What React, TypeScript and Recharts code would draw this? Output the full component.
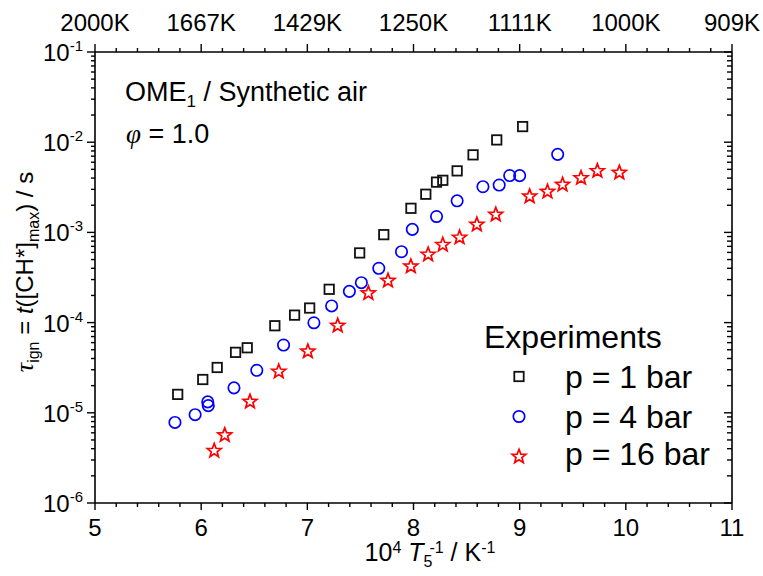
import React from 'react';
import { ScatterChart, Scatter, XAxis, YAxis } from 'recharts';

const FONT = '"Liberation Sans", Arial, Helvetica, sans-serif';
const SERIF = '"Liberation Serif", "Times New Roman", serif';

const xMajorTicks = [5, 6, 7, 8, 9, 10, 11];
const xMinorTicks = [5.2, 5.4, 5.6, 5.8, 6.2, 6.4, 6.6, 6.8, 7.2, 7.4, 7.6, 7.8, 8.2, 8.4, 8.6, 8.8, 9.2, 9.4, 9.6, 9.8, 10.2, 10.4, 10.6, 10.8];
const topTickLabels = ['2000K', '1667K', '1429K', '1250K', '1111K', '1000K', '909K'];
const yMajorTicks = [1e-6, 1e-5, 1e-4, 1e-3, 1e-2, 1e-1];
const yExponents = ['-6', '-5', '-4', '-3', '-2', '-1'];
const yMinorTicks = [
  2e-6, 3e-6, 4e-6, 5e-6, 6e-6, 7e-6, 8e-6, 9e-6,
  2e-5, 3e-5, 4e-5, 5e-5, 6e-5, 7e-5, 8e-5, 9e-5,
  2e-4, 3e-4, 4e-4, 5e-4, 6e-4, 7e-4, 8e-4, 9e-4,
  2e-3, 3e-3, 4e-3, 5e-3, 6e-3, 7e-3, 8e-3, 9e-3,
  2e-2, 3e-2, 4e-2, 5e-2, 6e-2, 7e-2, 8e-2, 9e-2,
];

const seriesNames = ['p = 1 bar', 'p = 4 bar', 'p = 16 bar'];

const p1X = [5.779, 6.015, 6.151, 6.324, 6.434, 6.694, 6.88, 7.022, 7.206, 7.493, 7.72, 7.976, 8.116, 8.217, 8.276, 8.411, 8.561, 8.784, 9.028];
const p1Y = [1.6e-5, 2.34e-5, 3.18e-5, 4.68e-5, 5.26e-5, 9.23e-5, 1.21e-4, 1.45e-4, 2.34e-4, 5.92e-4, 9.44e-4, 1.85e-3, 2.65e-3, 3.61e-3, 3.78e-3, 4.81e-3, 7.24e-3, 1.06e-2, 1.49e-2];

const p4X = [5.753, 5.943, 6.067, 6.062, 6.309, 6.524, 6.776, 7.062, 7.229, 7.396, 7.509, 7.673, 7.887, 7.989, 8.217, 8.411, 8.654, 8.807, 8.906, 9.0, 9.358];
const p4Y = [7.82e-6, 9.53e-6, 1.2e-5, 1.32e-5, 1.89e-5, 2.96e-5, 5.64e-5, 9.96e-5, 1.53e-4, 2.22e-4, 2.77e-4, 4.0e-4, 6.11e-4, 1.08e-3, 1.5e-3, 2.24e-3, 3.21e-3, 3.35e-3, 4.27e-3, 4.26e-3, 7.33e-3];

const p16X = [6.123, 6.222, 6.46, 6.731, 7.005, 7.286, 7.575, 7.76, 7.975, 8.138, 8.276, 8.434, 8.597, 8.775, 9.094, 9.262, 9.404, 9.578, 9.732, 9.939];
const p16Y = [3.85e-6, 5.74e-6, 1.35e-5, 2.91e-5, 4.86e-5, 9.4e-5, 2.15e-4, 2.96e-4, 4.27e-4, 5.77e-4, 7.4e-4, 8.91e-4, 1.24e-3, 1.6e-3, 2.55e-3, 2.87e-3, 3.43e-3, 4.07e-3, 4.87e-3, 4.67e-3];

const toPoints = (xs: number[], ys: number[]) => xs.map((x, i) => ({ x, y: ys[i] }));
const data1 = toPoints(p1X, p1Y);
const data4 = toPoints(p4X, p4Y);
const data16 = toPoints(p16X, p16Y);

const xAllTicks = [...xMajorTicks, ...xMinorTicks];
const yAllTicks = [...yMajorTicks, ...yMinorTicks];

const W = 763;
const H = 576;

function Square({ cx, cy }: { cx: number; cy: number }) {
  const s = 9.4;
  return <rect x={cx - s / 2} y={cy - s / 2} width={s} height={s} fill="none" stroke="#111" strokeWidth={1.8} />;
}
function Circ({ cx, cy }: { cx: number; cy: number }) {
  return <circle cx={cx} cy={cy} r={5.7} fill="none" stroke="#0000ff" strokeWidth={1.7} />;
}
function Star({ cx, cy }: { cx: number; cy: number }) {
  const R = 7.3;
  const r = 3.1;
  const pts: string[] = [];
  for (let i = 0; i < 10; i++) {
    const rad = i % 2 === 0 ? R : r;
    const a = -Math.PI / 2 + (i * Math.PI) / 5;
    pts.push(`${(cx + rad * Math.cos(a)).toFixed(2)},${(cy + 0.6 + rad * Math.sin(a)).toFixed(2)}`);
  }
  return <polygon points={pts.join(' ')} fill="none" stroke="#ff0000" strokeWidth={1.7} strokeLinejoin="miter" />;
}

const isMajorX = (v: number) => xMajorTicks.some((m) => Math.abs(m - v) < 1e-9);
const majorYIndex = (v: number) => yMajorTicks.findIndex((m) => Math.abs(m - v) / m < 1e-6);

const TL = { stroke: '#000', strokeWidth: 1.4 };

const BottomTick = (props: any) => {
  const { x, y, payload } = props;
  const major = isMajorX(payload.value);
  return (
    <g>
      <line x1={x} x2={x} y1={y} y2={y + (major ? 7 : 4)} {...TL} />
      {major && (
        <text x={x} y={y + 33} textAnchor="middle" fontFamily={FONT} fontSize={24} fill="#000">
          {String(payload.value)}
        </text>
      )}
    </g>
  );
};
const TopTick = (props: any) => {
  const { x, y, payload } = props;
  const major = isMajorX(payload.value);
  const idx = xMajorTicks.findIndex((m) => Math.abs(m - payload.value) < 1e-9);
  return (
    <g>
      <line x1={x} x2={x} y1={y} y2={y - (major ? 8 : 4)} {...TL} />
      {major && (
        <text x={x} y={y - 21} textAnchor="middle" fontFamily={FONT} fontSize={24} fill="#000">
          {topTickLabels[idx]}
        </text>
      )}
    </g>
  );
};
const LeftTick = (props: any) => {
  const { x, y, payload } = props;
  const idx = majorYIndex(payload.value);
  const major = idx >= 0;
  return (
    <g>
      <line x1={x} x2={x - (major ? 8 : 4)} y1={y} y2={y} {...TL} />
      {major && (
        <text x={x - 12} y={y + 9} textAnchor="end" fontFamily={FONT} fontSize={24} fill="#000">
          10
          <tspan dy={-10} fontSize={15}>{yExponents[idx]}</tspan>
        </text>
      )}
    </g>
  );
};
const RightTick = (props: any) => {
  const { x, y, payload } = props;
  const major = majorYIndex(payload.value) >= 0;
  return <line x1={x} x2={x - (major ? 8 : 5)} y1={y} y2={y} {...TL} />;
};

const axisLineStyle = { stroke: '#000', strokeWidth: 1.6 };
const Hidden = () => <g />;

export default function App() {
  return (
    <div style={{ position: 'absolute', left: 0, top: 0, width: W, height: H, background: '#fff' }}>
      <ScatterChart width={W} height={H} margin={{ top: 22, right: 11, bottom: 43, left: 35 }}>
        <XAxis xAxisId="x" dataKey="x" type="number" domain={[5, 11]} allowDataOverflow ticks={xAllTicks} interval={0}
          orientation="bottom" height={30} tickSize={0} tickMargin={0} axisLine={axisLineStyle} tickLine={false} tick={BottomTick} />
        <XAxis xAxisId="top" dataKey="x" type="number" domain={[5, 11]} allowDataOverflow ticks={xAllTicks} interval={0}
          orientation="top" height={30} tickSize={0} tickMargin={0} axisLine={axisLineStyle} tickLine={false} tick={TopTick} />
        <YAxis yAxisId="y" dataKey="y" type="number" scale="log" domain={[1e-6, 1e-1]} allowDataOverflow ticks={yAllTicks} interval={0}
          orientation="left" width={60} tickSize={0} tickMargin={0} axisLine={axisLineStyle} tickLine={false} tick={LeftTick} />
        <YAxis yAxisId="right" dataKey="y" type="number" scale="log" domain={[1e-6, 1e-1]} allowDataOverflow ticks={yAllTicks} interval={0}
          orientation="right" width={20} tickSize={0} tickMargin={0} axisLine={axisLineStyle} tickLine={false} tick={RightTick} />
        <Scatter name={seriesNames[0]} data={data1} xAxisId="x" yAxisId="y" isAnimationActive={false}
          shape={(p: any) => <Square cx={p.cx} cy={p.cy} />} />
        <Scatter name={seriesNames[1]} data={data4} xAxisId="x" yAxisId="y" isAnimationActive={false}
          shape={(p: any) => <Circ cx={p.cx} cy={p.cy} />} />
        <Scatter name={seriesNames[2]} data={data16} xAxisId="x" yAxisId="y" isAnimationActive={false}
          shape={(p: any) => <Star cx={p.cx} cy={p.cy} />} />
        <Scatter name="axis-binding" data={data1} xAxisId="top" yAxisId="right" isAnimationActive={false}
          legendType="none" shape={Hidden} />
      </ScatterChart>
      <svg width={W} height={H} style={{ position: 'absolute', left: 0, top: 0, pointerEvents: 'none' }}>
        <g fontFamily={FONT} fill="#000">
          <text x={125} y={101} fontSize={27}>
            OME<tspan fontSize={17} dy={6}>1</tspan>
            <tspan dy={-6}> / Synthetic air</tspan>
          </text>
          <text x={126} y={143} fontSize={27}>
            <tspan fontFamily={SERIF} fontStyle="italic">φ</tspan>
            <tspan> = 1.0</tspan>
          </text>
          <text x={484} y={347.5} fontSize={32}>Experiments</text>
          <Square cx={519} cy={376.5} />
          <Circ cx={519} cy={416.5} />
          <Star cx={519} cy={456} />
          <text x={565} y={387.5} fontSize={32}>{seriesNames[0]}</text>
          <text x={565} y={427.5} fontSize={32}>{seriesNames[1]}</text>
          <text x={565} y={465} fontSize={32}>{seriesNames[2]}</text>
          <text x={430} y={561} fontSize={25} textAnchor="middle">
            10<tspan fontSize={16} dy={-8}>4</tspan>
            <tspan dy={8}>{'\u00a0'}</tspan>
            <tspan fontStyle="italic">T</tspan>
            <tspan fontSize={16} dy={6}>5</tspan>
            <tspan fontSize={16} dy={-14} dx={-3}>-1</tspan>
            <tspan dy={8}> / K</tspan>
            <tspan fontSize={16} dy={-8}>-1</tspan>
          </text>
          <text transform="translate(33,272) rotate(-90)" textAnchor="middle" fontSize={24}>
            <tspan fontFamily={SERIF} fontStyle="italic" fontSize={26}>τ</tspan>
            <tspan fontSize={16} dy={6}>ign</tspan>
            <tspan dy={-6}> = </tspan>
            <tspan fontStyle="italic">t</tspan>
            <tspan>([CH*]</tspan>
            <tspan fontSize={16} dy={6}>max</tspan>
            <tspan dy={-6}>) / s</tspan>
          </text>
        </g>
      </svg>
    </div>
  );
}
